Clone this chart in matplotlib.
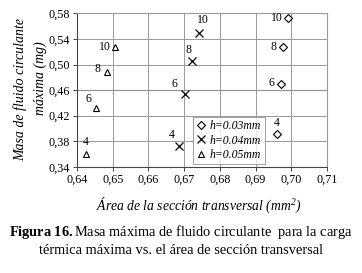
import matplotlib
matplotlib.use("Agg")
import matplotlib.pyplot as plt

plt.rcParams['font.family'] = ['Liberation Serif', 'DejaVu Serif']
plt.rcParams['mathtext.fontset'] = 'custom'
plt.rcParams['mathtext.it'] = 'Liberation Serif:italic'
plt.rcParams['mathtext.rm'] = 'Liberation Serif:italic'
plt.rcParams['mathtext.bf'] = 'Liberation Serif:bold'

loads = ["4", "6", "8", "10"]
area_h003 = [0.6960, 0.6972, 0.6978, 0.6991]
mass_h003 = [0.391, 0.469, 0.527, 0.572]
area_h004 = [0.6685, 0.6702, 0.6722, 0.6742]
mass_h004 = [0.372, 0.454, 0.505, 0.550]
area_h005 = [0.6424, 0.6453, 0.6483, 0.6506]
mass_h005 = [0.360, 0.432, 0.488, 0.528]

xticks = [0.64, 0.65, 0.66, 0.67, 0.68, 0.69, 0.70, 0.71]
yticks = [0.34, 0.38, 0.42, 0.46, 0.50, 0.54, 0.58]

fig = plt.figure(figsize=(3.62, 2.73), dpi=100)
ax = fig.add_axes([0.213, 0.389, 0.690, 0.562])

ax.set_xlim(0.64, 0.71)
ax.set_ylim(0.34, 0.58)
ax.set_xticks(xticks)
ax.set_yticks(yticks)
ax.set_xticklabels([f"{v:.2f}".replace('.', ',') for v in xticks], fontsize=8.7)
ax.set_yticklabels([f"{v:.2f}".replace('.', ',') for v in yticks], fontsize=8.7)
ax.grid(True, color='#999999', linewidth=0.7)
ax.axhline(0.46, color='#333333', linewidth=0.8, zorder=1)
for s in ['top', 'right']:
    ax.spines[s].set_color('#999999')
for s in ['left', 'bottom']:
    ax.spines[s].set_color('#444444')
ax.tick_params(length=3, width=0.7, color='#444444', pad=2)

ax.plot(area_h003, mass_h003, linestyle='none', marker='D', markersize=4,
        markerfacecolor='white', markeredgecolor='black', markeredgewidth=0.8,
        label='h=0.03mm')
ax.plot(area_h004, mass_h004, linestyle='none', marker='x', markersize=6,
        color='black', markeredgewidth=0.9, label='h=0.04mm')
ax.plot(area_h005, mass_h005, linestyle='none', marker='^', markersize=5,
        markerfacecolor='white', markeredgecolor='black', markeredgewidth=0.8,
        label='h=0.05mm')

px = 0.72
off003 = [(0, 11), (-10, 1), (-10, 0), (-11, 0)]
off004 = [(-7, 11), (-10, 10), (-4, 11), (4, 12.5)]
off005 = [(0, 12), (-8, 9), (-9, 3), (-10, 0)]
for xs, ys, offs in [(area_h003, mass_h003, off003),
                     (area_h004, mass_h004, off004),
                     (area_h005, mass_h005, off005)]:
    for xv, yv, lab, o in zip(xs, ys, loads, offs):
        ax.annotate(lab, (xv, yv), xytext=(o[0] * px, o[1] * px),
                    textcoords='offset points',
                    ha='center', va='center', fontsize=8.5)

leg = ax.legend(loc='lower left', bbox_to_anchor=(0.455, 0.0),
                prop={'style': 'italic', 'size': 8.5},
                frameon=True, fancybox=False, edgecolor='#888888',
                handlelength=0.8, handletextpad=0.3, borderpad=0.3,
                labelspacing=0.2, borderaxespad=0.2)
leg.get_frame().set_linewidth(0.7)

fig.text(20 / 362, 1 - 90 / 273, 'Masa de fluido circulante', rotation=90,
         ha='center', va='center', fontsize=10, style='italic')
fig.text(40 / 362, 1 - 78 / 273, 'máxima (mg)', rotation=90,
         ha='center', va='center', fontsize=10, style='italic')
fig.text(199 / 362, 1 - 205 / 273, 'Área de la sección transversal (mm$^2$)',
         ha='center', va='center', fontsize=9.8, style='italic')

fig.text(0.5, 0.151, r'$\mathbf{Figura\ 16.}$Masa máxima de fluido circulante  para la carga',
         ha='center', va='center', fontsize=10.4)
fig.text(0.5, 0.082, 'térmica máxima vs. el área de sección transversal',
         ha='center', va='center', fontsize=10.4)

fig.savefig('out.png', dpi=100)
